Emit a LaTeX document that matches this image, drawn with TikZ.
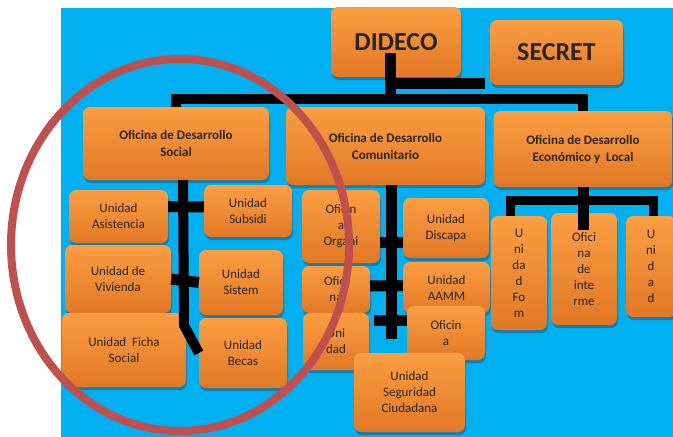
\documentclass[tikz,border=0pt]{standalone}
\usepackage{fontspec}
\setmainfont{Carlito}
\usetikzlibrary{shadows}

\definecolor{fondo}{RGB}{0,176,240}
\definecolor{naranjaclaro}{RGB}{252,158,66}
\definecolor{naranjaoscuro}{RGB}{226,120,38}
\definecolor{sombra}{RGB}{30,95,130}
\definecolor{rojocirculo}{RGB}{192,80,77}

\tikzset{
        caja/.style={rounded corners=7pt, top color=naranjaclaro, bottom color=naranjaoscuro,
                drop shadow={shadow xshift=1pt, shadow yshift=-3pt, fill=sombra, opacity=.6},
                text=black!85, align=center, inner sep=2pt, font=\fontsize{13}{16}\selectfont},
        titulo/.style={caja, font=\bfseries\fontsize{13}{17}\selectfont},
        jefe/.style={caja, font=\bfseries\fontsize{26}{30}\selectfont},
        conector/.style={line width=11pt, black},
}

\begin{document}
\begin{tikzpicture}[x=1pt, y=-1pt]
        \useasboundingbox (0,0) rectangle (673,437);
        \fill[fondo] (61,8) rectangle (673,437);

        \node[jefe, minimum width=130, minimum height=70] (dideco) at (396,42) {DIDECO};
        \node[jefe, minimum width=133, minimum height=65] (secret) at (556.5,52.5) {SECRET};

        \node[titulo, minimum width=186, minimum height=73] (social) at (176,143.5) {Oficina de Desarrollo\\Social};
        \node[titulo, minimum width=199, minimum height=78] (comunit) at (385.5,146) {Oficina de Desarrollo\\Comunitario};
        \node[titulo, minimum width=179, minimum height=76] (economico) at (583,149) {Oficina de Desarrollo\\Económico y\ \ Local};

        % social
        \node[caja, minimum width=99, minimum height=53] (asist) at (118.5,216.5) {Unidad\\Asistencia};
        \node[caja, minimum width=88, minimum height=52] (subsidi) at (248,211) {Unidad\\Subsidi};
        \node[caja, minimum width=106, minimum height=68] (vivienda) at (118,279) {Unidad de\\Vivienda};
        \node[caja, minimum width=84, minimum height=65] (sistema) at (241,282.5) {Unidad\\Sistem};
        \node[caja, minimum width=124, minimum height=74] (ficha) at (124,350) {Unidad\ \ Ficha\\Social};
        \node[caja, minimum width=88, minimum height=70] (becas) at (243,353) {Unidad\\Becas};

        % comunitario
        \node[caja, minimum width=78, minimum height=73] (organi) at (341,226.5) {Oficin\\a\\Organi};
        \node[caja, minimum width=68, minimum height=47] (ofna) at (336,289.5) {Ofici\\na};
        \node[caja, minimum width=66, minimum height=57] (uni) at (336,341.5) {Uni\\dad};
        \node[caja, minimum width=86, minimum height=60] (discapa) at (446,228) {Unidad\\Discapa};
        \node[caja, minimum width=87, minimum height=51] (aamm) at (446.5,287.5) {Unidad\\AAMM};
        \node[caja, minimum width=78, minimum height=54] (oficina) at (446,333) {Oficin\\a};
        \node[caja, minimum width=111, minimum height=79] (seguridad) at (409.5,392.5) {Unidad\\Seguridad\\Ciudadana};

        % economico
        \node[caja, minimum width=56, minimum height=114] (fom) at (519,273) {U\\ni\\da\\d\\Fo\\m};
        \node[caja, minimum width=66, minimum height=112] (interm) at (584,269) {Ofici\\na\\de\\inte\\rme};
        \node[caja, minimum width=50, minimum height=101] (unid) at (651,266.5) {U\\ni\\d\\a\\d};

        \coordinate (tronco) at (390.5,99);
        \coordinate (codo) at (390.5,83.5);

        \draw[conector] ([xshift=-5.5pt,yshift=-11pt]dideco.center) -- (tronco);
        \draw[conector] (codo) -- ([xshift=-5pt]codo -| secret.west);
        \draw[conector, line width=10pt] (social.north) |- (tronco) -| (economico.north);

        \draw[conector, line width=10pt] ([xshift=7pt]social.south) -- ([xshift=8pt,yshift=-145pt]social.south) -- (becas.west);
        \draw[conector] ([yshift=10pt]asist.east) -- ([yshift=4pt]subsidi.west);
        \draw[conector] (vivienda.east) -- (sistema.west);

        \draw[conector] ([xshift=6pt]comunit.south) -- ++(0,154);
        \draw[conector] ([yshift=-16pt]organi.east) -- ([yshift=-14.5pt]discapa.west);
        \draw[conector] ([yshift=3.5pt]ofna.east) -- ([yshift=2pt]aamm.west);
        \draw[conector] ([xshift=5pt,yshift=21pt]uni.east) -- ([yshift=12.5pt]oficina.west);

        \draw[conector] (economico.south) -- ++(0,43);
        \draw[conector, line width=9pt] ([xshift=-9pt]fom.north) |- ([yshift=-13pt]economico.south) -| ([xshift=2pt]unid.north);

        \draw[line width=8pt, rojocirculo] (180,245) ellipse [x radius=169pt, y radius=186pt];
\end{tikzpicture}
\end{document}
